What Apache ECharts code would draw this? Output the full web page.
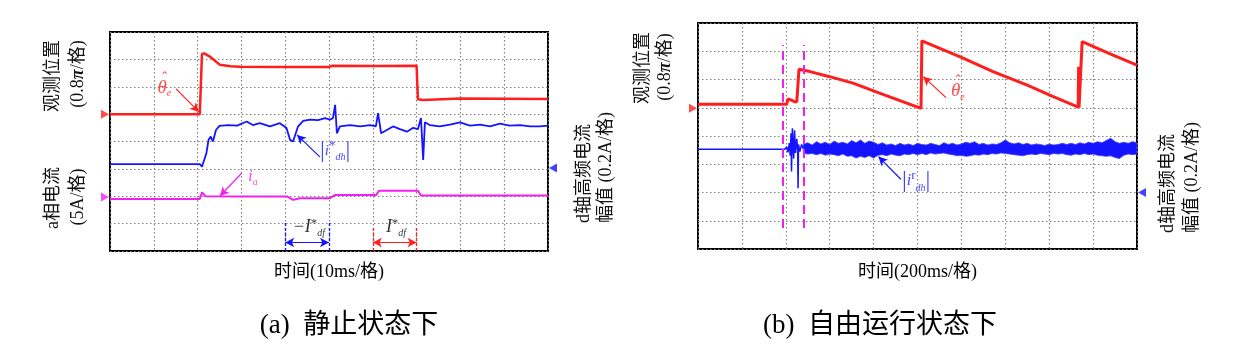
<!DOCTYPE html>
<html>
<head>
<meta charset="utf-8">
<script src="https://cdn.jsdelivr.net/npm/echarts@6/dist/echarts.min.js"></script>
<style>
  html, body { margin: 0; padding: 0; background: #fff; }
  #main { width: 1253px; height: 350px; }
</style>
</head>
<body>
<div id="main"></div>
<script>
// Scope traces. x = time in divisions (0..10), y = divisions (0..8)

// (a) standstill
var leftTheta = [[0, 5.0], [2.05, 5.0], [2.1, 7.2], [2.15, 7.22], [2.3, 7.08], [2.51, 6.8], [2.75, 6.75],
  [2.97, 6.73], [4.0, 6.72], [5.0, 6.72], [5.07, 6.77], [6.0, 6.76], [7.0, 6.77], [7.03, 5.54],
  [7.15, 5.52], [8.0, 5.57], [9.0, 5.56], [10, 5.55]];

var leftIdh = [[0, 3.17], [2.05, 3.17], [2.1, 3.08], [2.2, 3.57], [2.25, 4.06], [2.3, 4.18], [2.35, 4.0],
  [2.42, 4.42], [2.5, 4.57], [2.7, 4.6], [2.9, 4.58], [3.12, 4.73], [3.26, 4.6], [3.42, 4.67],
  [3.65, 4.55], [3.88, 4.67], [4.03, 4.49], [4.11, 4.06], [4.18, 4.0], [4.29, 4.54], [4.41, 4.75],
  [4.57, 4.8], [4.75, 4.78], [4.91, 4.85], [5.02, 4.8], [5.09, 4.85], [5.14, 5.34], [5.18, 4.3],
  [5.25, 4.55], [5.48, 4.6], [5.71, 4.55], [5.94, 4.6], [6.07, 4.55], [6.12, 5.04], [6.19, 4.3],
  [6.3, 4.4], [6.46, 4.55], [6.62, 4.45], [6.78, 4.36], [6.92, 4.5], [7.03, 4.45], [7.1, 4.86],
  [7.15, 3.33], [7.19, 4.7], [7.3, 4.6], [7.53, 4.55], [7.76, 4.62], [7.99, 4.7], [8.22, 4.58],
  [8.45, 4.62], [8.68, 4.55], [8.9, 4.65], [9.13, 4.58], [9.36, 4.6], [9.59, 4.55], [9.82, 4.55],
  [10, 4.58]];

var leftIa = [[0, 1.9], [2.05, 1.9], [2.1, 2.14], [2.18, 2.0], [3.0, 1.99], [4.05, 1.99], [4.18, 1.87],
  [4.34, 1.93], [5.02, 1.93], [5.14, 2.05], [6.08, 2.05], [6.14, 2.2], [7.03, 2.2], [7.1, 2.03],
  [10, 2.03]];

// (b) free running
var rightTheta = [[0, 5.12], [2.02, 5.12], [2.05, 5.31], [2.12, 5.28], [2.2, 5.21], [2.25, 5.21],
  [2.3, 6.36], [2.55, 6.28], [3.0, 6.1], [3.53, 5.87], [4.15, 5.51], [5.08, 4.98], [5.1, 7.37],
  [6.0, 6.78], [6.72, 6.28], [7.5, 5.8], [8.0, 5.46], [8.66, 5.02], [8.67, 6.45], [8.68, 5.0],
  [8.72, 4.98], [8.75, 7.34], [9.4, 6.9], [10, 6.51]];

var rightIdh = [[0, 3.53], [1.98, 3.53], [2.02, 3.62], [2.05, 3.42], [2.08, 3.75], [2.1, 3.3],
  [2.12, 4.1], [2.13, 2.74], [2.15, 4.27], [2.18, 3.2], [2.2, 4.2], [2.22, 3.4], [2.25, 3.9],
  [2.27, 3.5], [2.28, 2.15], [2.29, 3.7], [2.32, 3.45], [2.36, 3.7], [2.4, 3.55]];

// noise band after the start: [x, upper edge, lower edge]
var rightIdhBand = [
  [2.4, 3.70, 3.40], [2.5, 3.76, 3.36], [2.6, 3.68, 3.38], [2.7, 3.80, 3.34], [2.8, 3.72, 3.38],
  [2.9, 3.78, 3.32], [3.0, 3.70, 3.36], [3.1, 3.82, 3.34], [3.2, 3.74, 3.30], [3.3, 3.78, 3.36],
  [3.4, 3.72, 3.28], [3.5, 3.84, 3.30], [3.6, 3.76, 3.22], [3.7, 3.86, 3.28], [3.8, 3.74, 3.24],
  [3.9, 3.82, 3.30], [4.0, 3.78, 3.22], [4.1, 3.70, 3.32], [4.2, 3.76, 3.34], [4.3, 3.68, 3.30],
  [4.4, 3.72, 3.36], [4.5, 3.66, 3.32], [4.6, 3.74, 3.30], [4.7, 3.68, 3.36], [4.8, 3.72, 3.34],
  [4.9, 3.66, 3.38], [5.0, 3.74, 3.34], [5.1, 3.70, 3.38], [5.2, 3.68, 3.34], [5.3, 3.74, 3.40],
  [5.4, 3.70, 3.36], [5.5, 3.66, 3.38], [5.6, 3.76, 3.40], [5.7, 3.70, 3.36], [5.8, 3.74, 3.34],
  [5.9, 3.68, 3.30], [6.0, 3.72, 3.32], [6.1, 3.78, 3.28], [6.2, 3.74, 3.30], [6.3, 3.80, 3.34],
  [6.4, 3.70, 3.32], [6.5, 3.74, 3.36], [6.6, 3.68, 3.34], [6.7, 3.72, 3.38], [6.8, 3.70, 3.36],
  [6.9, 3.76, 3.40], [7.0, 3.86, 3.38], [7.1, 3.76, 3.36], [7.2, 3.72, 3.34], [7.3, 3.76, 3.32],
  [7.4, 3.70, 3.30], [7.5, 3.74, 3.34], [7.6, 3.68, 3.36], [7.7, 3.72, 3.34], [7.8, 3.70, 3.38],
  [7.9, 3.66, 3.36], [8.0, 3.72, 3.34], [8.1, 3.68, 3.38], [8.2, 3.70, 3.36], [8.3, 3.74, 3.38],
  [8.4, 3.70, 3.34], [8.5, 3.74, 3.32], [8.6, 3.70, 3.36], [8.7, 3.76, 3.34], [8.8, 3.72, 3.38],
  [8.9, 3.78, 3.34], [9.0, 3.74, 3.36], [9.1, 3.80, 3.32], [9.2, 3.76, 3.30], [9.3, 3.84, 3.28],
  [9.4, 3.92, 3.30], [9.5, 3.80, 3.24], [9.6, 3.74, 3.20], [9.7, 3.78, 3.32], [9.8, 3.74, 3.36],
  [9.9, 3.80, 3.34], [10.0, 3.76, 3.36]];

// channel ground markers: [x, y]
var leftMarkers = { theta: [0, 5.0], ia: [0, 1.97], idh: [10, 3.03] };
var rightMarkers = { theta: [0, 4.98], idh: [10, 2.0] };

var RED = '#ff1e1e', BLUE = '#1414ff', MAG = '#f020f0';
var FONT = "'Liberation Serif', 'Noto Sans CJK SC'";

var chart = echarts.init(document.getElementById('main'));

function scopeX(gi, name, gap) {
  return {
    type: 'value', gridIndex: gi, min: 0, max: 10, interval: 1,
    axisLine: { show: false }, axisTick: { show: false }, axisLabel: { show: false },
    splitLine: { show: true, lineStyle: { color: '#808080', width: 1.2, type: [1.5, 2.5] } },
    name: name, nameLocation: 'middle', nameGap: gap,
    nameTextStyle: { color: '#000', fontSize: 18, fontFamily: FONT }
  };
}
function scopeY(gi) {
  return {
    type: 'value', gridIndex: gi, min: 0, max: 8, interval: 1,
    axisLine: { show: false }, axisTick: { show: false }, axisLabel: { show: false },
    splitLine: { show: true, lineStyle: { color: '#808080', width: 1.2, type: [1.5, 2.5] } }
  };
}
function trace(gi, data, color, width) {
  return {
    type: 'line', xAxisIndex: gi, yAxisIndex: gi, data: data, showSymbol: false,
    lineStyle: { color: color, width: width }, z: 3
  };
}
function marker(gi, p, color, pointRight) {
  return {
    type: 'scatter', xAxisIndex: gi, yAxisIndex: gi, clip: false, data: [p],
    symbol: 'triangle', symbolSize: [9, 8], symbolRotate: pointRight ? -90 : 90,
    symbolOffset: [pointRight ? -5 : 5, 0], itemStyle: { color: color }, z: 5
  };
}
function arrow(a, b, color, dashed, both) {
  return [{ coord: a, lineStyle: { color: color, width: dashed ? 1.3 : 1.2, type: dashed ? [3, 2] : 'solid' },
            symbol: both ? 'arrow' : 'none' },
          { coord: b, symbol: dashed ? 'none' : 'arrow' }];
}

var rich = {
  m: { fontFamily: FONT, fontStyle: 'italic', fontSize: 18, lineHeight: 22 },
  s: { fontFamily: FONT, fontStyle: 'italic', fontSize: 10, lineHeight: 10, verticalAlign: 'bottom' },
  t: { fontFamily: FONT, fontSize: 13, lineHeight: 11, verticalAlign: 'top' },
  b: { fontFamily: FONT, fontSize: 24, lineHeight: 24 }
};
function note(p, text, color, size, offset) {
  return { value: p, label: { show: true, position: 'inside', formatter: text, color: color, offset: offset || [0, 0],
    rich: { m: Object.assign({}, rich.m, { fontSize: size, color: color }),
            s: Object.assign({}, rich.s, { color: color }),
            t: Object.assign({}, rich.t, { color: color }),
            b: Object.assign({}, rich.b, { color: color }) } } };
}

var leftNotes = {
  type: 'scatter', xAxisIndex: 0, yAxisIndex: 0, symbolSize: 0, z: 6,
  data: [
    note([1.24, 5.96], '{m|θ}{s|e}', RED, 19),
    note([1.24, 5.96], '{m|ˆ}', RED, 16, [-1, -9]),
    note([5.14, 3.66], '{b||}{m|i}{t|*}{s|dh}{b||}', BLUE, 15),
    note([3.26, 2.72], '{m|i}{s|a}', MAG, 17),
    note([4.54, 0.85], '{m|−I}{t|*}{s|df}', '#000', 18),
    note([6.53, 0.85], '{m|I}{t|*}{s|df}', '#000', 18)
  ],
  markLine: {
    silent: true, symbolSize: [7, 9], label: { show: false },
    data: [
      arrow([1.51, 5.92], [2.03, 5.08], RED),
      arrow([4.79, 3.44], [4.27, 4.24], BLUE),
      arrow([3.01, 2.85], [2.51, 2.01], MAG),
      arrow([4.0, 0], [4.0, 1.07], BLUE, true),
      arrow([5.0, 0], [5.0, 1.07], BLUE, true),
      arrow([4.0, 0.31], [5.0, 0.31], BLUE, false, true),
      arrow([6.0, 0], [6.0, 0.85], RED, true),
      arrow([7.0, 0], [7.0, 0.85], RED, true),
      arrow([6.0, 0.31], [7.0, 0.31], RED, false, true)
    ]
  }
};

var rightNotes = {
  type: 'scatter', xAxisIndex: 1, yAxisIndex: 1, symbolSize: 0, z: 6,
  data: [
    note([5.92, 5.59], '{m|θ}{s|e}', RED, 19),
    note([5.92, 5.59], '{m|ˆ}', RED, 16, [-1, -9]),
    note([4.97, 2.41], '{b||}{m|i}{t|r}{s|dh}{b||}', BLUE, 16)
  ],
  markLine: {
    silent: true, symbolSize: [7, 9], label: { show: false },
    data: [
      arrow([5.65, 5.36], [5.13, 6.1], RED),
      arrow([4.62, 2.47], [4.11, 3.27], BLUE),
      [{ coord: [1.92, 0.74], symbol: 'none', lineStyle: { color: MAG, width: 2, type: [9, 5] } }, { coord: [1.92, 7.22], symbol: 'none' }],
      [{ coord: [2.4, 0.74], symbol: 'none', lineStyle: { color: MAG, width: 2, type: [9, 5] } }, { coord: [2.4, 7.22], symbol: 'none' }]
    ]
  }
};

// thick noisy band drawn as one polygon between the read edges
var rightBand = {
  type: 'custom', xAxisIndex: 1, yAxisIndex: 1, z: 3, data: [[2.4, 3.55]],
  renderItem: function (params, api) {
    var top = rightIdhBand.map(function (p) { return api.coord([p[0], p[1]]); });
    var bot = rightIdhBand.slice().reverse().map(function (p) { return api.coord([p[0], p[2]]); });
    return { type: 'polygon', shape: { points: top.concat(bot) },
             style: { fill: BLUE, stroke: '#3a3aff', lineWidth: 0.8 } };
  }
};

function vtext(x, y, text, align) {
  return { type: 'text', x: x, y: y, rotation: Math.PI / 2,
    style: { text: text, align: align || 'center', verticalAlign: 'middle', fill: '#111',
             font: '18px ' + FONT,
             rich: { p: { fontFamily: FONT, fontSize: 18, fontStyle: 'italic', fontWeight: 'bold', fill: '#111' } } } };
}

var option = {
  animation: false,
  backgroundColor: '#fff',
  grid: [
    { left: 110, top: 32, width: 438, height: 219, show: true, borderColor: '#000', borderWidth: 2, backgroundColor: 'transparent' },
    { left: 698, top: 23, width: 439, height: 226, show: true, borderColor: '#000', borderWidth: 2, backgroundColor: 'transparent' }
  ],
  xAxis: [scopeX(0, '时间(10ms/格)', 12), scopeX(1, '时间(200ms/格)', 14)],
  yAxis: [scopeY(0), scopeY(1)],
  series: [
    trace(0, leftIa, MAG, 2),
    trace(0, leftIdh, BLUE, 1.8),
    trace(0, leftTheta, RED, 2.5),
    leftNotes,
    marker(0, leftMarkers.theta, RED, true),
    marker(0, leftMarkers.ia, MAG, true),
    marker(0, leftMarkers.idh, BLUE, false),
    rightBand,
    trace(1, rightIdh, BLUE, 1.5),
    trace(1, rightTheta, RED, 3),
    rightNotes,
    marker(1, rightMarkers.theta, RED, true),
    marker(1, rightMarkers.idh, BLUE, false)
  ],
  graphic: [
    vtext(53, 76, '观测位置'),
    vtext(78, 74, '(0.8{p|π}/格)'),
    vtext(53, 198, 'a相电流'),
    vtext(78, 197, '(5A/格)'),
    vtext(584, 223, 'd轴高频电流', 'left'),
    vtext(606, 223, '幅值 (0.2A/格)', 'left'),
    vtext(643, 68, '观测位置'),
    vtext(665, 67, '(0.8{p|π}/格)'),
    vtext(1168, 233, 'd轴高频电流', 'left'),
    vtext(1192, 233, '幅值 (0.2A/格)', 'left'),
    { type: 'text', x: 349, y: 326, style: { text: '(a)  静止状态下', align: 'center', verticalAlign: 'middle', fill: '#000', font: '27px ' + FONT } },
    { type: 'text', x: 880, y: 326, style: { text: '(b)  自由运行状态下', align: 'center', verticalAlign: 'middle', fill: '#000', font: '27px ' + FONT } }
  ]
};

chart.setOption(option);
</script>
</body>
</html>
